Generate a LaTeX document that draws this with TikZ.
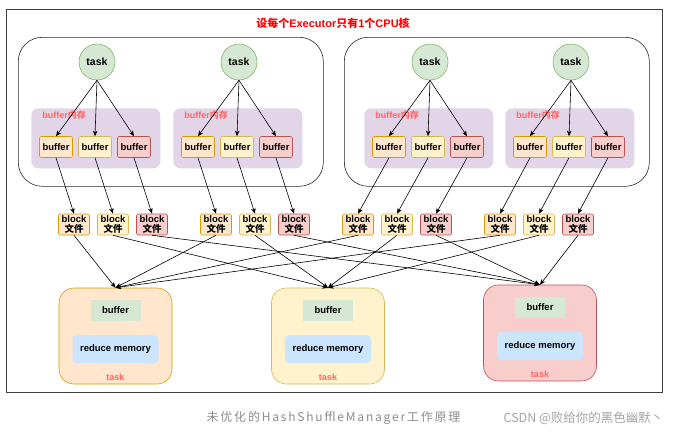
\documentclass[tikz,border=0pt]{standalone}
\usepackage{fontspec}
\setmainfont{Liberation Sans}
\newfontfamily\cjk{Noto Sans CJK SC}
\newfontfamily\capfont[LetterSpace=15]{Noto Sans CJK SC}
\usetikzlibrary{arrows,arrows.meta}
\definecolor{ofill}{HTML}{FFE6CC}
\definecolor{odraw}{HTML}{D79B00}
\definecolor{yfill}{HTML}{FFF2CC}
\definecolor{ydraw}{HTML}{D6B656}
\definecolor{rfill}{HTML}{F8CECC}
\definecolor{rdraw}{HTML}{B85450}
\definecolor{gfill}{HTML}{D5E8D4}
\definecolor{gdraw}{HTML}{82B366}
\definecolor{purp}{HTML}{E1D5E7}
\definecolor{lblue}{HTML}{CCE5FF}
\definecolor{lred}{HTML}{FF6666}
\definecolor{capgray}{HTML}{8C8C8C}
\tikzset{
  col_o/.style = {fill=ofill, draw=odraw},
  col_y/.style = {fill=yfill, draw=ydraw},
  col_r/.style = {fill=rfill, draw=rdraw},
  frame_n/.style = {draw=black!75, anchor=north west, inner sep=0pt,
    minimum width=656pt, minimum height=383pt},
  exec_n/.style = {draw=black!85, rounded corners=24pt, anchor=north west,
    minimum width=305pt, minimum height=149pt},
  mem_n/.style = {fill=purp, rounded corners=7pt, anchor=north west,
    minimum width=129pt, minimum height=60pt},
  task_n/.style = {circle, draw=gdraw, fill=gfill, inner sep=0pt,
    minimum size=36pt, font=\bfseries\fontsize{10.5}{12}\selectfont},
  buf_n/.style = {rounded corners=2pt, inner sep=0pt, minimum width=33pt,
    minimum height=21pt, font=\bfseries\fontsize{9.5}{11}\selectfont},
  blk_n/.style = {rounded corners=2pt, inner sep=0.5pt, align=center,
    minimum width=31pt, minimum height=21pt,
    font=\bfseries\fontsize{9.5}{10}\selectfont},
  red_n/.style = {rounded corners=15pt, minimum width=113pt,
    minimum height=96pt},
  rbuf_n/.style = {fill=gfill, minimum width=50pt, minimum height=21pt,
    font=\bfseries\fontsize{9.5}{11}\selectfont},
  rmem_n/.style = {fill=lblue, rounded corners=4pt, minimum width=86pt,
    minimum height=28pt, font=\bfseries\fontsize{9.5}{11}\selectfont},
  lbl_n/.style = {text=lred, inner sep=0pt,
    font=\bfseries\fontsize{9}{10}\selectfont}}

\begin{document}
\begin{tikzpicture}[->,>={Stealth[length=5.5pt,width=4.5pt,inset=1.5pt]},
  x=1pt,y=-1pt,line width=0.6pt]
\useasboundingbox (0,0) rectangle (688,434);

\node [frame_n] (frame) at (6,9) {};
\node [text=red, font=\bfseries\fontsize{11}{13}\selectfont] (title) at (333,23)
  {{\cjk 设每个}Executor{\cjk 只有}1{\cjk 个}CPU{\cjk 核}};
\node [exec_n] (ex0) at (18,37) {};
\node [exec_n] (ex1) at (344,37) {};

% map side: task -> buffer -> block file
\foreach \t [count=\g from 0] in {97,239,430,571} {
  \node [mem_n] (m\g) at (\t-66,108) {};
  \node [lbl_n, anchor=west] (ml\g) at (\t-55,115) {buffer{\cjk 内存}};
  \node [task_n] (t\g) at (\t,62) {task};
  \foreach \c [count=\i from 0] in {o,y,r} {
    \node [buf_n, col_\c] (b\g\i) at (\t-41+39*\i,147) {buffer};
    \node [blk_n, col_\c] (k\g\i) at (74+142*\g+39*\i,224.5) {block\\{\cjk 文件}};
    \draw (t\g.south) -- (b\g\i.north);
    \draw (b\g\i.south) -- (k\g\i.north);
  }
}

% reduce side
\foreach \x/\y/\c [count=\i from 0] in {115.5/336/o, 328/336/y, 540/333/r} {
  \node [red_n, col_\c] (r\i) at (\x,\y) {};
  \node [rbuf_n] (rb\i) at (\x,\y-26) {buffer};
  \node [rmem_n] (rm\i) at (\x,\y+13) {reduce memory};
  \node [lbl_n] (rl\i) at (\x,\y+41) {task};
}

\foreach \g in {0,...,3}
  \foreach \i in {0,1,2}
    \draw (k\g\i.south) -- (r\i.north);

\node [text=capgray, font=\capfont\fontsize{12}{14}\selectfont] (cap) at (333.5,418)
  {未优化的HashShuffleManager工作原理};
\node [text=capgray!80, anchor=west, font=\cjk\fontsize{12.5}{14}\selectfont] (src) at (500,418)
  {CSDN @败给你的黑色幽默丶};
\end{tikzpicture}
\end{document}
